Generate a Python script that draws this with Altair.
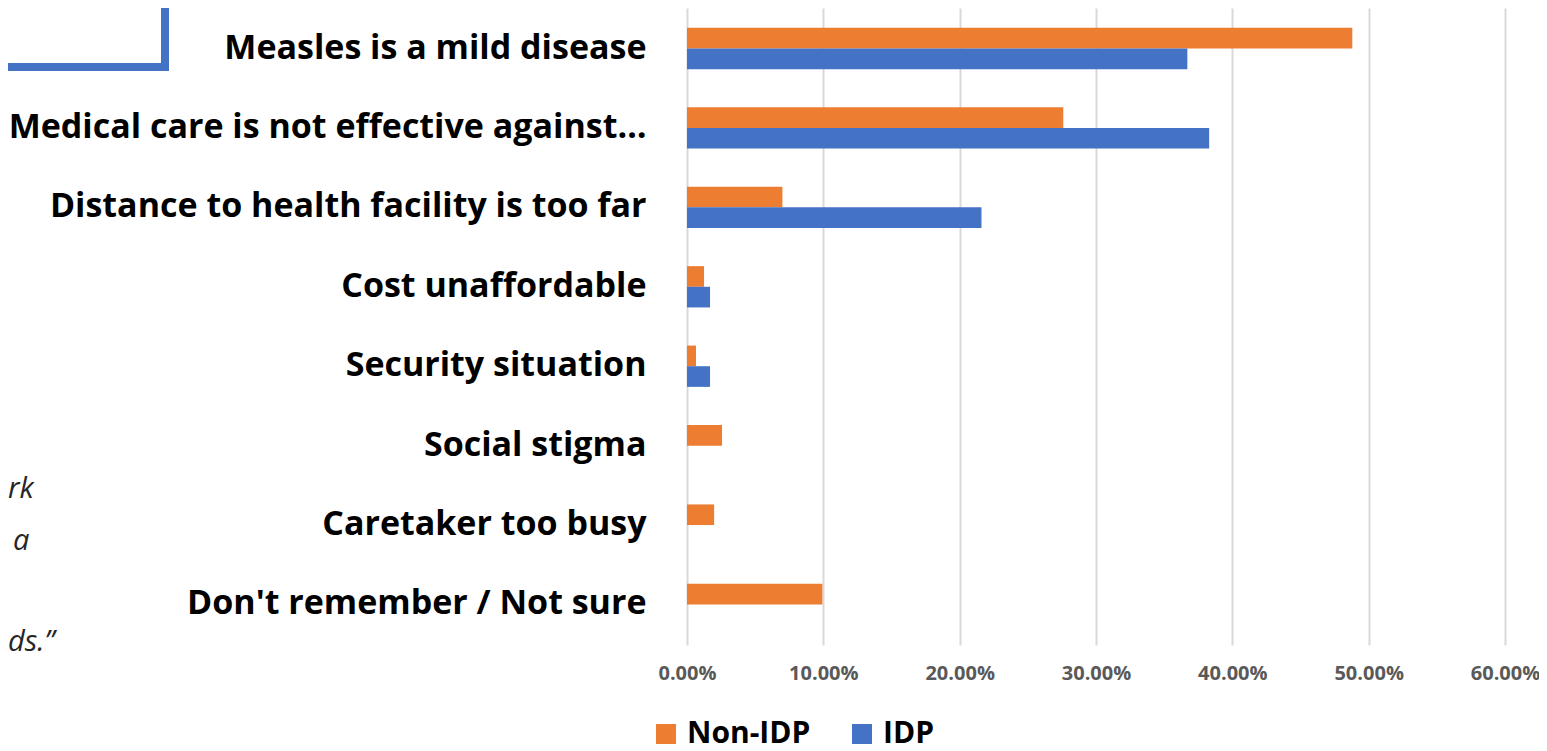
import altair as alt
import pandas as pd

categories = [
    "Measles is a mild disease",
    "Medical care is not effective against…",
    "Distance to health facility is too far",
    "Cost unaffordable",
    "Security situation",
    "Social stigma",
    "Caretaker too busy",
    "Don't remember / Not sure",
]
non_idp = [0.488, 0.276, 0.070, 0.0125, 0.0066, 0.0257, 0.0199, 0.0993]
idp = [0.367, 0.383, 0.216, 0.0169, 0.0169, 0.0, 0.0, 0.0]
series = ["Non-IDP", "IDP"]
colors = ["#ED7D31", "#4472C4"]
x_ticks = [0, 0.1, 0.2, 0.3, 0.4, 0.5, 0.6]

rows = []
for c, a, b in zip(categories, non_idp, idp):
    rows.append({"reason": c, "group": "Non-IDP", "value": a})
    rows.append({"reason": c, "group": "IDP", "value": b})
df = pd.DataFrame(rows)

LEFT = 679
FONT = "Open Sans"

bars = alt.Chart(df).mark_bar().encode(
    x=alt.X("value:Q",
            scale=alt.Scale(domain=[0, 0.6], nice=False),
            axis=alt.Axis(values=x_ticks, format=".2%", title=None,
                          labelColor="#595959", labelFont=FONT,
                          labelFontWeight="bold", labelFontSize=20,
                          labelPadding=18, labelFlush=False, ticks=False,
                          domain=False, grid=True, gridColor="#d9d9d9",
                          gridWidth=2)),
    y=alt.Y("reason:N", sort=categories,
            scale=alt.Scale(paddingInner=0.48, paddingOuter=0.25),
            axis=alt.Axis(title=None, labelFont=FONT, labelFontWeight="bold",
                          labelFontSize=34, labelColor="#000000",
                          labelPadding=41, labelLimit=800, ticks=False,
                          domain=False, grid=False)),
    yOffset=alt.YOffset("group:N", sort=series),
    color=alt.Color("group:N", sort=series,
                    scale=alt.Scale(domain=series, range=colors),
                    legend=alt.Legend(title=None, orient="none",
                                      direction="horizontal",
                                      legendX=-36, legendY=711,
                                      labelFont=FONT, labelFontWeight="bold",
                                      labelFontSize=30, labelColor="#000000",
                                      symbolType="square",
                                      symbolSize=400, symbolStrokeWidth=0,
                                      labelOffset=6, columnPadding=36,
                                      padding=0)),
)

one = pd.DataFrame({"a": [0]})
frame_v = alt.Chart(one).mark_rect(color="#4472C4").encode(
    x=alt.value(153 - LEFT), x2=alt.value(161 - LEFT),
    y=alt.value(-8), y2=alt.value(63))
frame_h = alt.Chart(one).mark_rect(color="#4472C4").encode(
    x=alt.value(-LEFT), x2=alt.value(161 - LEFT),
    y=alt.value(55), y2=alt.value(63))

frag_style = dict(font=FONT, fontStyle="italic", fontSize=29,
                  color="#262626", align="left", baseline="alphabetic")
t1 = alt.Chart(one).mark_text(**frag_style).encode(
    x=alt.value(0 - LEFT), y=alt.value(490), text=alt.value("rk"))
t2 = alt.Chart(one).mark_text(**frag_style).encode(
    x=alt.value(5 - LEFT), y=alt.value(542), text=alt.value("a"))
t3 = alt.Chart(one).mark_text(**frag_style).encode(
    x=alt.value(0 - LEFT), y=alt.value(643), text=alt.value("ds.\u201d"))

chart = alt.layer(frame_v, frame_h, t1, t2, t3, bars).properties(
    width=818, height=637,
    autosize=alt.AutoSizeParams(type="none"),
    padding={"left": LEFT, "top": 0, "right": 34, "bottom": 106},
).configure_view(stroke=None)

chart.save("out.html", embed_options={"renderer": "svg", "actions": False})
